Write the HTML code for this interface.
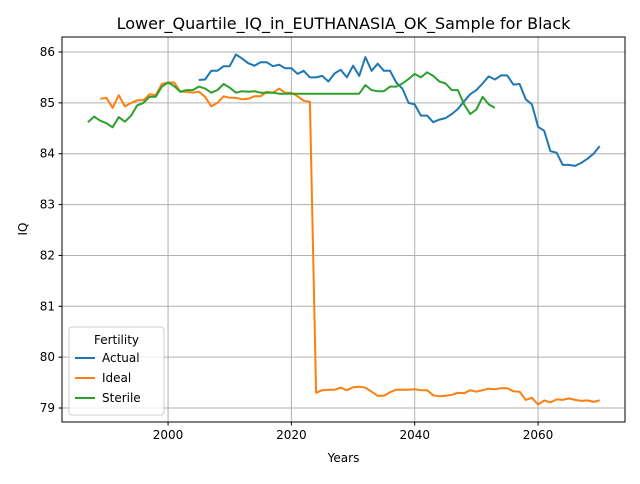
<!DOCTYPE html>
<html><head><meta charset="utf-8"><style>
body{margin:0;background:#fff;font-family:"DejaVu Sans","Liberation Sans",sans-serif}
svg text{font-family:"DejaVu Sans","Liberation Sans",sans-serif;fill:#000}
</style></head><body>
<svg id="chart" width="640" height="480" xmlns="http://www.w3.org/2000/svg">
<rect width="640" height="480" fill="#fff"/>
<g id="grid"></g><g id="series"></g><g id="ticks"></g>
<rect x="62" y="37" width="563" height="385" fill="none" stroke="#000" stroke-width="1"/>
<text x="343.5" y="29" font-size="16" text-anchor="middle">Lower_Quartile_IQ_in_EUTHANASIA_OK_Sample for Black</text>
<text x="343.5" y="462" font-size="12" text-anchor="middle">Years</text>
<text transform="translate(27,229) rotate(-90)" font-size="12" text-anchor="middle">IQ</text>
<g>
<rect x="69" y="327" width="95" height="88" rx="3" fill="#fff" fill-opacity="0.8" stroke="#ccc"/>
<text x="116.5" y="344" font-size="12" text-anchor="middle">Fertility</text>
<g><line x1="75" x2="95" y1="358" y2="358" stroke="#1f77b4" stroke-width="2"/><text x="102" y="362" font-size="12">Actual</text></g>
<g><line x1="75" x2="95" y1="378" y2="378" stroke="#ff7f0e" stroke-width="2"/><text x="102" y="382" font-size="12">Ideal</text></g>
<g><line x1="75" x2="95" y1="398" y2="398" stroke="#2ca02c" stroke-width="2"/><text x="102" y="402" font-size="12">Sterile</text></g>
</g>
</svg>
<script>
const xTicks=[2000,2020,2040,2060];
const yTicks=[79,80,81,82,83,84,85,86];
const actualStart=2005;
const actualValues=[85.45,85.46,85.63,85.63,85.72,85.72,85.95,85.87,85.78,85.73,85.80,85.80,85.72,85.75,85.68,85.68,85.57,85.63,85.50,85.50,85.53,85.42,85.58,85.65,85.50,85.73,85.53,85.90,85.63,85.77,85.63,85.63,85.40,85.28,85.00,84.97,84.75,84.75,84.62,84.67,84.70,84.78,84.88,85.03,85.17,85.25,85.38,85.52,85.46,85.54,85.54,85.36,85.37,85.07,84.97,84.53,84.45,84.05,84.02,83.78,83.78,83.76,83.82,83.90,84.00,84.15];
const idealStart=1989;
const idealValues=[85.08,85.10,84.90,85.15,84.93,85.00,85.05,85.05,85.17,85.15,85.37,85.40,85.40,85.22,85.22,85.20,85.22,85.12,84.93,85.00,85.13,85.10,85.10,85.07,85.08,85.13,85.13,85.22,85.20,85.28,85.20,85.20,85.13,85.04,85.02,79.30,79.35,79.36,79.36,79.40,79.35,79.41,79.42,79.40,79.32,79.24,79.24,79.31,79.36,79.36,79.36,79.37,79.35,79.35,79.25,79.23,79.24,79.26,79.30,79.29,79.35,79.32,79.35,79.38,79.37,79.39,79.39,79.33,79.32,79.16,79.20,79.07,79.15,79.11,79.17,79.16,79.19,79.16,79.14,79.15,79.12,79.15];
const sterileStart=1987;
const sterileValues=[84.62,84.73,84.65,84.60,84.52,84.72,84.63,84.75,84.95,85.00,85.12,85.12,85.32,85.40,85.33,85.22,85.25,85.25,85.32,85.28,85.20,85.25,85.37,85.30,85.20,85.23,85.22,85.23,85.20,85.20,85.20,85.18,85.18,85.18,85.18,85.18,85.18,85.18,85.18,85.18,85.18,85.18,85.18,85.18,85.18,85.35,85.25,85.23,85.23,85.32,85.32,85.38,85.47,85.57,85.50,85.60,85.53,85.42,85.38,85.25,85.25,84.97,84.78,84.87,85.12,84.97,84.90];
const X0=62,X1=625,Y0=37,Y1=422,xmin=1982.8,xmax=2074.1,ymin=78.725,ymax=86.295;
const xs=v=>X0+(v-xmin)/(xmax-xmin)*(X1-X0);
const ys=v=>Y1-(v-ymin)/(ymax-ymin)*(Y1-Y0);
const NS="http://www.w3.org/2000/svg";
function mk(t,a,p){const e=document.createElementNS(NS,t);for(const k in a)e.setAttribute(k,a[k]);p.appendChild(e);return e;}
const grid=document.getElementById('grid'),ticks=document.getElementById('ticks'),ser=document.getElementById('series');
xTicks.forEach(t=>{const x=xs(t);
const g=mk('line',{x1:x,x2:x,y1:Y0,y2:Y1,stroke:'#b0b0b0','stroke-width':1},grid);


mk('line',{x1:x,x2:x,y1:Y1,y2:Y1+3.5,stroke:'#000'},ticks);
const tx=mk('text',{x:x,y:Y1+17,'font-size':12,'text-anchor':'middle'},ticks);tx.textContent=t;

});
yTicks.forEach(t=>{const y=ys(t);
const g=mk('line',{x1:X0,x2:X1,y1:y,y2:y,stroke:'#b0b0b0','stroke-width':1},grid);


mk('line',{x1:X0-3.5,x2:X0,y1:y,y2:y,stroke:'#000'},ticks);
const tx=mk('text',{x:X0-7,y:y+4,'font-size':12,'text-anchor':'end'},ticks);tx.textContent=t;

});
function line(start,vals,color,name){const pts=vals.map((v,i)=>xs(start+i).toFixed(1)+','+ys(v).toFixed(1)).join(' ');
const p=mk('polyline',{points:pts,fill:'none',stroke:color,'stroke-width':2,'stroke-linejoin':'round'},ser);

}
line(actualStart,actualValues,'#1f77b4','actual-line');
line(idealStart,idealValues,'#ff7f0e','ideal-line');
line(sterileStart,sterileValues,'#2ca02c','sterile-line');
</script>
</body></html>
